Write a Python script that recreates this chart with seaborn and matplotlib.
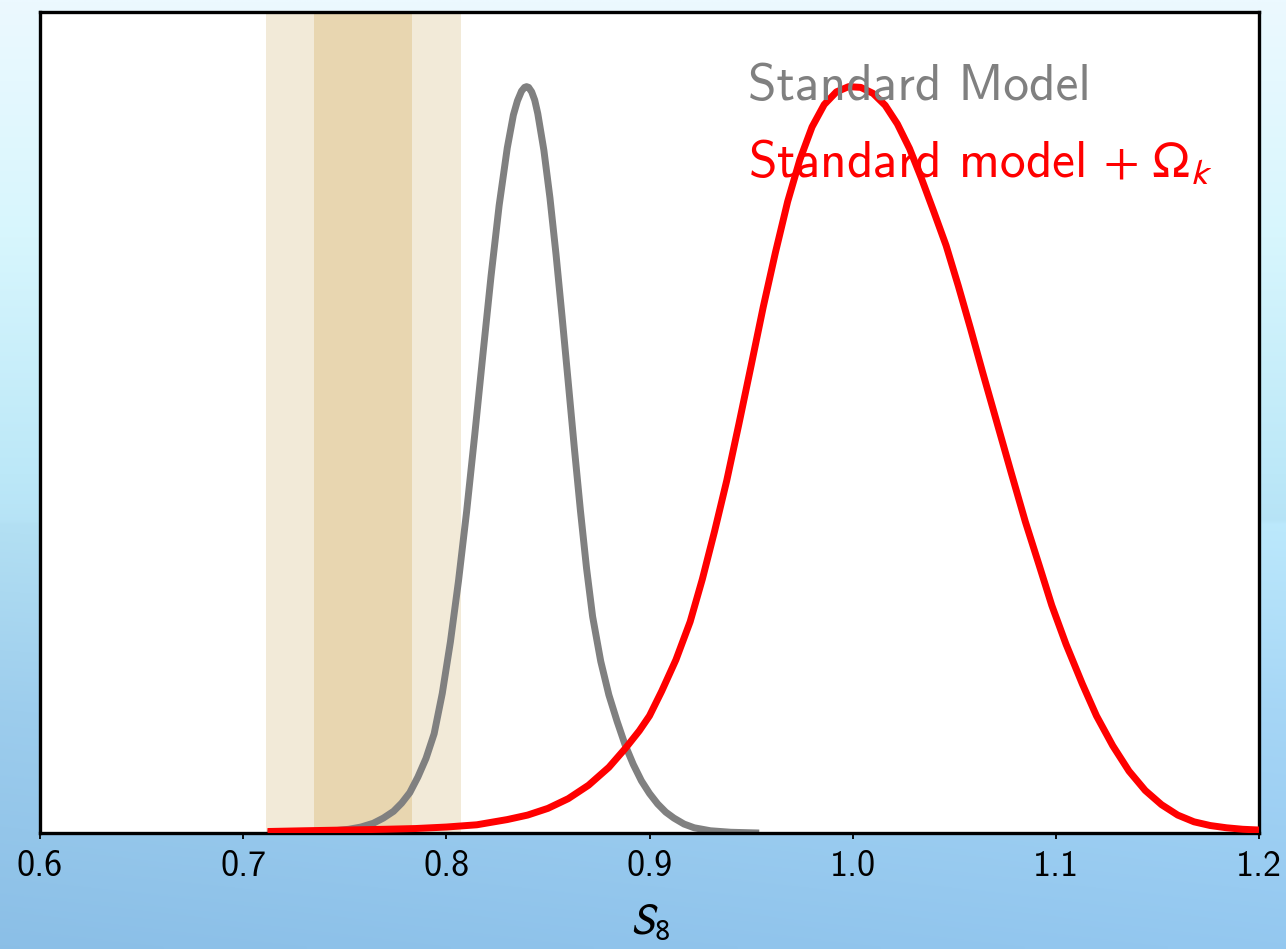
import numpy as np
import pandas as pd
import matplotlib
matplotlib.use("Agg")
import matplotlib.pyplot as plt
import seaborn as sns

# Marginalised S8 posteriors (normalised to peak = 1)
s8_standard = [0.712, 0.725, 0.735, 0.745, 0.752, 0.758, 0.764, 0.769, 0.774, 0.778,
               0.782, 0.786, 0.790, 0.794, 0.798, 0.802, 0.806, 0.810, 0.814, 0.818,
               0.822, 0.826, 0.830, 0.833, 0.835, 0.837, 0.8385, 0.8395, 0.8405, 0.842,
               0.8435, 0.845, 0.848, 0.851,
               0.854, 0.857, 0.860, 0.863, 0.866, 0.869, 0.872, 0.876, 0.880, 0.884,
               0.888, 0.892, 0.896, 0.900, 0.904, 0.908, 0.912, 0.917, 0.922, 0.930,
               0.940, 0.954]
p_standard = [0.000, 0.0007, 0.0015, 0.003, 0.005, 0.008, 0.013, 0.020, 0.029, 0.040,
              0.054, 0.075, 0.100, 0.133, 0.187, 0.256, 0.338, 0.431, 0.534, 0.641,
              0.746, 0.841, 0.918, 0.962, 0.981, 0.994, 0.999, 1.000, 0.999, 0.993,
              0.982, 0.964, 0.915, 0.851,
              0.775, 0.691, 0.604, 0.516, 0.432, 0.355, 0.290, 0.230, 0.185, 0.150,
              0.118, 0.092, 0.070, 0.053, 0.039, 0.028, 0.020, 0.012, 0.007, 0.003,
              0.001, 0.000]

s8_curved = [0.712, 0.730, 0.750, 0.770, 0.785, 0.800, 0.815, 0.830, 0.840, 0.850,
             0.860, 0.870, 0.880, 0.888, 0.895, 0.900, 0.906, 0.913, 0.920, 0.926,
             0.932, 0.938, 0.944, 0.950, 0.956, 0.962, 0.968, 0.974, 0.980, 0.986,
             0.992, 0.998, 1.004, 1.010, 1.016, 1.022, 1.028, 1.034, 1.040, 1.046,
             1.052, 1.058, 1.064, 1.071, 1.078, 1.085, 1.092, 1.098, 1.105, 1.113,
             1.120, 1.128, 1.136, 1.144, 1.152, 1.160, 1.168, 1.176, 1.184, 1.192,
             1.200]
p_curved = [0.002, 0.003, 0.004, 0.005, 0.006, 0.008, 0.011, 0.018, 0.024, 0.033,
            0.046, 0.064, 0.088, 0.113, 0.137, 0.157, 0.190, 0.232, 0.283, 0.340,
            0.404, 0.472, 0.548, 0.626, 0.705, 0.778, 0.846, 0.902, 0.946, 0.976,
            0.993, 1.000, 0.999, 0.991, 0.975, 0.950, 0.917, 0.876, 0.832, 0.787,
            0.733, 0.676, 0.617, 0.550, 0.483, 0.417, 0.357, 0.305, 0.253, 0.200,
            0.157, 0.117, 0.083, 0.057, 0.038, 0.024, 0.015, 0.010, 0.007, 0.005,
            0.004]

# Weak-lensing constraint bands (1 and 2 sigma)
band_2sigma = (0.711, 0.807)
band_1sigma = (0.735, 0.783)

tick_values = [0.6, 0.7, 0.8, 0.9, 1.0, 1.1, 1.2]
tick_labels = ["0.6", "0.7", "0.8", "0.9", "1.0", "1.1", "1.2"]

label_standard = "Standard Model"
label_curved = r"Standard model $+\ \Omega_k$"

sns.set_theme(style="white")
plt.rcParams["font.family"] = ["cmss10", "DejaVu Sans"]
plt.rcParams["mathtext.fontset"] = "stixsans"
plt.rcParams["axes.unicode_minus"] = False
plt.rcParams["text.color"] = "black"
plt.rcParams["xtick.color"] = "black"
plt.rcParams["axes.labelcolor"] = "black"

fig = plt.figure(figsize=(12.86, 9.49), dpi=100)

# slide-style blue gradient behind the plot
bg = fig.add_axes([0, 0, 1, 1], zorder=0)
ny, nx = 200, 260
yy = np.linspace(0, 1, ny)[:, None]
xx = np.linspace(0, 1, nx)[None, :]
stops_y = [0.0, 0.25, 0.5, 0.75, 1.0]
stops_c = np.array([[236, 249, 255], [215, 246, 253], [188, 232, 248],
                    [160, 208, 240], [142, 194, 234]]) / 255
img = np.zeros((ny, nx, 3))
for c in range(3):
    col = np.interp(yy[:, 0], stops_y, stops_c[:, c])[:, None]
    img[:, :, c] = col + 0.035 * (xx - 0.35) * (yy > 0.55)
img = np.clip(img, 0, 1)
bg.imshow(img, aspect="auto", extent=[0, 1, 1, 0], interpolation="bilinear")
bg.set_axis_off()

ax = fig.add_axes([40 / 1286, 1 - 833 / 949, 1219 / 1286, 821 / 949], zorder=1)
ax.set_facecolor("white")

ax.axvspan(*band_2sigma, color="#F2EAD8", lw=0, zorder=0)
ax.axvspan(*band_1sigma, color="#E8D6B0", lw=0, zorder=0.5)

df_std = pd.DataFrame({"S8": s8_standard, "P": p_standard})
df_cur = pd.DataFrame({"S8": s8_curved, "P": p_curved})
sns.lineplot(data=df_std, x="S8", y="P", color="#808080", lw=5.0, ax=ax,
             estimator=None, sort=False, zorder=2)
sns.lineplot(data=df_cur, x="S8", y="P", color="#FF0000", lw=5.0, ax=ax,
             estimator=None, sort=False, zorder=3)
for ln in ax.lines:
    ln.set_solid_joinstyle("round")
    ln.set_solid_capstyle("butt")

ax.set_xlim(0.6, 1.2)
ax.set_ylim(0, 1.1)
ax.set_xticks(tick_values)
ax.set_xticklabels(tick_labels, fontsize=26, color="black")
ax.set_yticks([])
ax.set_ylabel("")
ax.set_xlabel(r"$S_8$", fontsize=32, labelpad=14, color="black")
ax.tick_params(axis="x", which="both", direction="out", length=4, width=1.3,
               color="black", pad=8, bottom=True)
for sp in ax.spines.values():
    sp.set_visible(True)
    sp.set_color("black")
    sp.set_linewidth(2.4)

ax.text(0.581, 0.893, label_standard, transform=ax.transAxes, color="#808080",
        fontsize=37, ha="left", va="baseline", zorder=4)
ax.text(0.581, 0.798, label_curved, transform=ax.transAxes, color="#FF0000",
        fontsize=37, ha="left", va="baseline", zorder=4)

fig.savefig("out.png", dpi=100)
